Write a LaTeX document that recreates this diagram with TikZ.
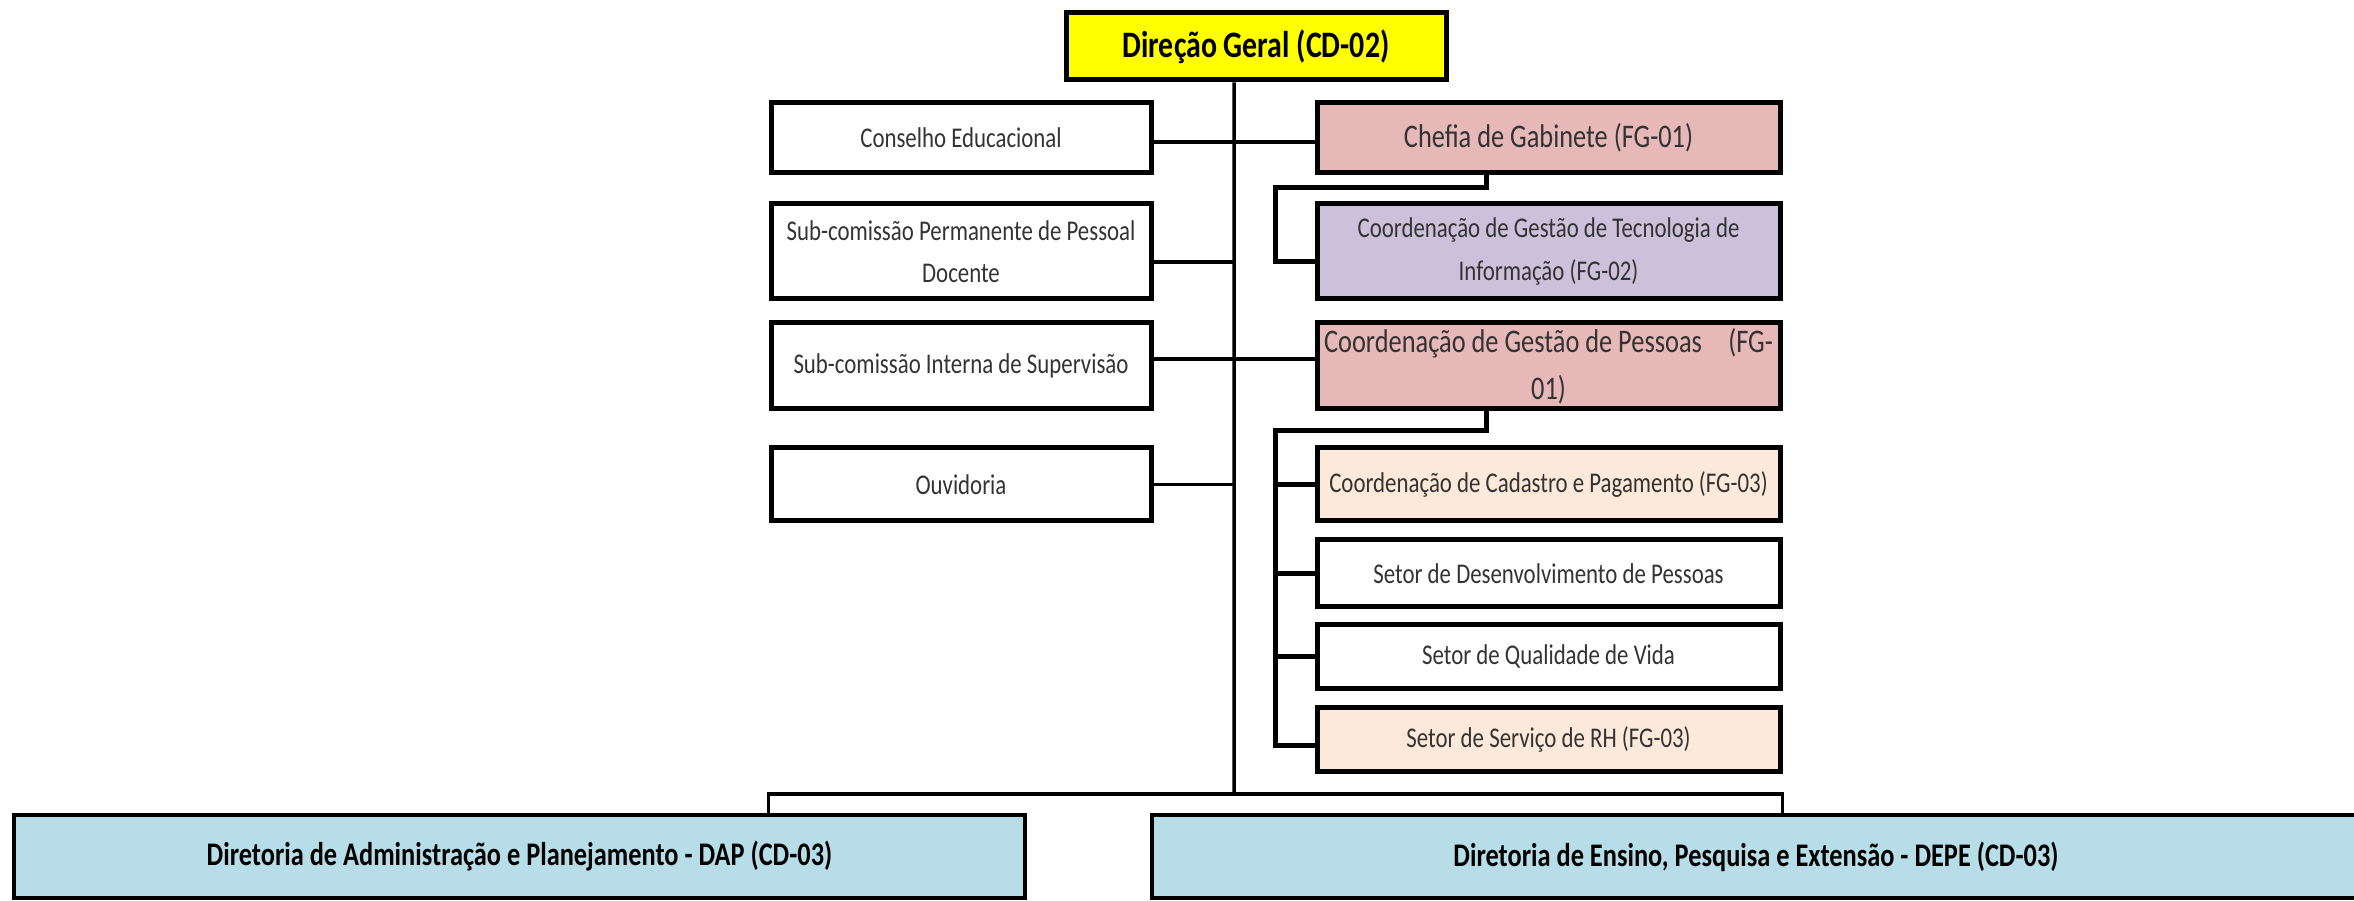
\documentclass[tikz,border=0pt]{standalone}
\usepackage{fontspec}
\setmainfont{Carlito}
\usepackage{graphicx}
\usepackage{tikz}

\definecolor{amarelo}{HTML}{FFFF00}
\definecolor{rosa}{HTML}{E6B8B7}
\definecolor{lilas}{HTML}{CCC0DA}
\definecolor{pessego}{HTML}{FDE9D9}
\definecolor{azul}{HTML}{B7DEE8}
\definecolor{txt}{HTML}{333333}

\newcommand\alto[1]{\scalebox{1}[1.25]{#1}}

\tikzset{
  caixa/.style={draw, line width=1mm, fill=white, align=center, inner sep=0pt, text=txt, font=\fontsize{13}{24}\selectfont},
  esq/.style={caixa, minimum width=76mm},
  dir/.style={caixa, minimum width=92.6mm},
  diretoria/.style={draw, line width=0.7mm, fill=azul, inner sep=0pt, minimum height=16.6mm, font=\bfseries\fontsize{15}{18}\selectfont},
  liga/.style={line width=0.7mm},
  chave/.style={line width=1mm}
}

\begin{document}
\begin{tikzpicture}[x=0.2mm,y=-0.2mm]
\useasboundingbox (0,0) rectangle (2354,901);

\node[caixa, fill=amarelo, text=black, minimum width=76mm, minimum height=13.4mm, font=\bfseries\fontsize{17}{20}\selectfont] (dg) at (1256,46.5) {\alto{Direção Geral (CD-02)}};

\node[esq, minimum height=14mm] (ce) at (961,138) {\alto{Conselho Educacional}};
\node[esq, minimum height=19mm] (sp) at (961,251.5) {\alto{Sub-comissão Permanente de Pessoal}\\\alto{Docente}};
\node[esq, minimum height=17.2mm] (si) at (961,366) {\alto{Sub-comissão Interna de Supervisão}};
\node[esq, minimum height=14.6mm] (ou) at (961,484.5) {\alto{Ouvidoria}};

\node[dir, fill=rosa, minimum height=14mm, font=\fontsize{15}{18}\selectfont] (cg) at (1548.5,138) {\alto{Chefia de Gabinete (FG-01)}};
\node[dir, fill=lilas, minimum height=19mm] (ti) at (1548.5,251.5) {\alto{Coordenação de Gestão de Tecnologia de}\\\alto{Informação (FG-02)}};
\node[dir, fill=rosa, minimum height=17.2mm, font=\fontsize{15}{27}\selectfont] (gp) at (1548.5,366) {\alto{Coordenação de Gestão de Pessoas\quad(FG-}\\\alto{01)}};
\node[dir, fill=pessego, minimum height=14.6mm] (cp) at (1548.5,484.5) {\alto{Coordenação de Cadastro e Pagamento (FG-03)}};
\node[dir, minimum height=13.4mm] (sd) at (1548.5,573.5) {\alto{Setor de Desenvolvimento de Pessoas}};
\node[dir, minimum height=12.6mm] (qv) at (1548.5,656.5) {\alto{Setor de Qualidade de Vida}};
\node[dir, fill=pessego, minimum height=12.6mm] (rh) at (1548.5,739.5) {\alto{Setor de Serviço de RH (FG-03)}};

\node[diretoria, minimum width=202.2mm] (dap) at (519.5,856.5) {\alto{Diretoria de Administração e Planejamento - DAP (CD-03)}};
\node[diretoria, minimum width=241.6mm] (depe) at (1756,856.5) {\alto{Diretoria de Ensino, Pesquisa e Extensão - DEPE (CD-03)}};

\coordinate (base) at (1234,794);
\coordinate (k1) at (1275,188);
\coordinate (k2) at (1275,431);

\draw[liga] ([xshift=-4.4mm]dg.south) -- (base);
\draw[liga] ([yshift=-0.8mm]ce.east) -- ([yshift=-0.8mm]cg.west);
\draw[liga] ([yshift=1.4mm]si.east) -- ([yshift=1.4mm]gp.west);
\path ([yshift=-2.1mm]sp.east) coordinate (spl) (ou.east) coordinate (oul);
\draw[liga] (spl) -- (spl -| base);
\draw[liga] (oul) -- (oul -| base);

\draw[chave] ([xshift=-12.5mm]cg.south) |- (k1) |- ([yshift=-2.1mm]ti.west);
\draw[chave] ([xshift=-12.5mm]gp.south) |- (k2) |- ([yshift=-1.1mm]rh.west);
\foreach \n in {cp,sd,qv}
  \draw[chave] (k2 |- \n.west) -- (\n.west);

\draw[liga] (dap.north -| sp.west) -- (sp.west |- base) -- (cg.east |- base) -- (depe.north -| cg.east);
\end{tikzpicture}
\end{document}
